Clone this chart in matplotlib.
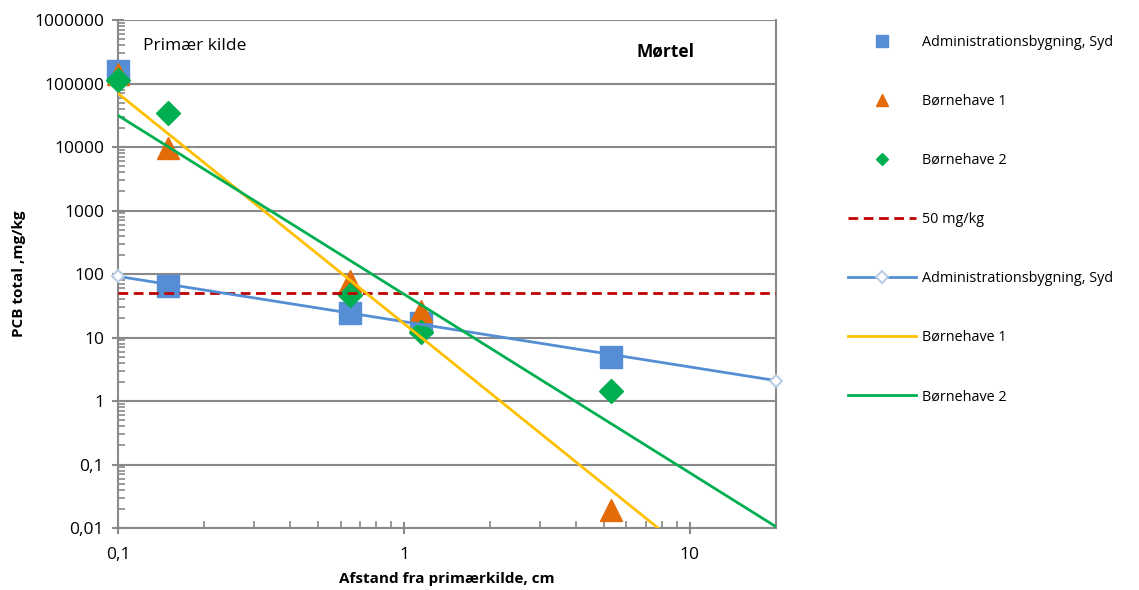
#!/usr/bin/env python3

import numpy as np
import matplotlib.pyplot as plt
from matplotlib.lines import Line2D
from matplotlib.ticker import FixedLocator, FuncFormatter, LogLocator, NullFormatter

plt.rcParams["font.family"] = ["Open Sans", "DejaVu Sans"]

# Measured points (distance in cm, PCB total in mg/kg)
x_pts = [0.1, 0.15, 0.65, 1.15, 5.3]
adm_syd = [155000, 65, 24, 17, 5.0]
born1 = [140000, 9800, 78, 26, 0.019]
born2 = [112000, 34500, 46, 12.3, 1.45]

# Limit value
limit = 50

# Fitted lines (two end points each)
adm_line_x = [0.1, 20]
adm_line_y = [92, 2.1]
born1_line_x = [0.1, 20]
born1_line_y = [70000, 3.2e-4]
born2_line_x = [0.1, 20]
born2_line_y = [31500, 0.0105]

blue = "#558ED5"
orange = "#E36C09"
green = "#00B050"
red = "#C00000"
yellow = "#FFC000"
grey = "#898989"

fig = plt.figure(figsize=(11.39, 5.90), dpi=100)
ax = fig.add_axes([0.1036, 0.105, 0.5777, 0.861])

ax.plot(x_pts, adm_syd, "s", color=blue, markersize=16, zorder=3, clip_on=False)
ax.plot(x_pts, born1, "^", color=orange, markersize=16, zorder=3, clip_on=False)
ax.plot(x_pts, born2, "D", color=green, markersize=12, zorder=3, clip_on=False)

ax.axhline(limit, color=red, linestyle=(0, (3.5, 2)), linewidth=2, zorder=4)
ax.plot(adm_line_x, adm_line_y, "-", color=blue, linewidth=2, zorder=4,
        marker="D", markersize=6, markerfacecolor="white",
        markeredgecolor="#B9CDE5", markeredgewidth=1.5, clip_on=False)
ax.plot(born1_line_x, born1_line_y, "-", color=yellow, linewidth=2, zorder=4)
ax.plot(born2_line_x, born2_line_y, "-", color=green, linewidth=2, zorder=4)

ax.set_xscale("log")
ax.set_yscale("log")
ax.set_xlim(0.1, 20)
ax.set_ylim(0.01, 1000000)

def comma_fmt(v, pos):
    if v >= 1:
        return f"{v:.0f}"
    return f"{v:g}".replace(".", ",")

ax.yaxis.set_major_locator(FixedLocator([10.0 ** k for k in range(-2, 7)]))
ax.yaxis.set_major_formatter(FuncFormatter(comma_fmt))
ax.yaxis.set_minor_locator(LogLocator(base=10, subs=np.arange(2, 10), numticks=50))
ax.yaxis.set_minor_formatter(NullFormatter())
ax.xaxis.set_major_locator(FixedLocator([0.1, 1, 10]))
ax.xaxis.set_major_formatter(FuncFormatter(comma_fmt))
ax.xaxis.set_minor_locator(LogLocator(base=10, subs=np.arange(2, 10), numticks=50))
ax.xaxis.set_minor_formatter(NullFormatter())

ax.grid(True, axis="y", which="major", color=grey, linewidth=1.5, zorder=0)
ax.set_axisbelow(True)
for side in ["left", "bottom", "right", "top"]:
    ax.spines[side].set_color(grey)
    ax.spines[side].set_linewidth(1.5)
ax.spines["top"].set_visible(False)

ax.tick_params(axis="both", which="major", direction="inout", length=8, width=1.5,
               color=grey, labelsize=12.5, pad=6)
ax.tick_params(axis="both", which="minor", direction="in", length=5, width=1.2, color=grey)
ax.tick_params(axis="x", which="major", pad=10)

ax.set_xlabel("Afstand fra primærkilde, cm", fontsize=11, fontweight="bold", labelpad=6)
ax.set_ylabel("PCB total ,mg/kg", fontsize=11, fontweight="bold", labelpad=6)

ax.text(0.1224, 390000, "Primær kilde", fontsize=12.5, ha="left", va="center")
ax.text(8.2, 316000, "Mørtel", fontsize=12.5, fontweight="bold", ha="center", va="center")

handles = [
    Line2D([], [], linestyle="none", marker="s", color=blue, markersize=8),
    Line2D([], [], linestyle="none", marker="^", color=orange, markersize=8),
    Line2D([], [], linestyle="none", marker="D", color=green, markersize=6),
    Line2D([], [], color=red, linestyle=(0, (3.5, 2)), linewidth=2),
    Line2D([], [], color=blue, linewidth=2, marker="D", markersize=6,
           markerfacecolor="white", markeredgecolor="#B9CDE5", markeredgewidth=1.5),
    Line2D([], [], color=yellow, linewidth=2),
    Line2D([], [], color=green, linewidth=2),
]
labels = ["Administrationsbygning, Syd", "Børnehave 1", "Børnehave 2", "50 mg/kg",
          "Administrationsbygning, Syd", "Børnehave 1", "Børnehave 2"]
fig.legend(handles, labels, loc="upper left", bbox_to_anchor=(0.733, 0.963),
           frameon=False, fontsize=10.4, handlelength=4.7, handletextpad=0.45,
           labelspacing=3.05)

fig.savefig("out.png", dpi=100)
